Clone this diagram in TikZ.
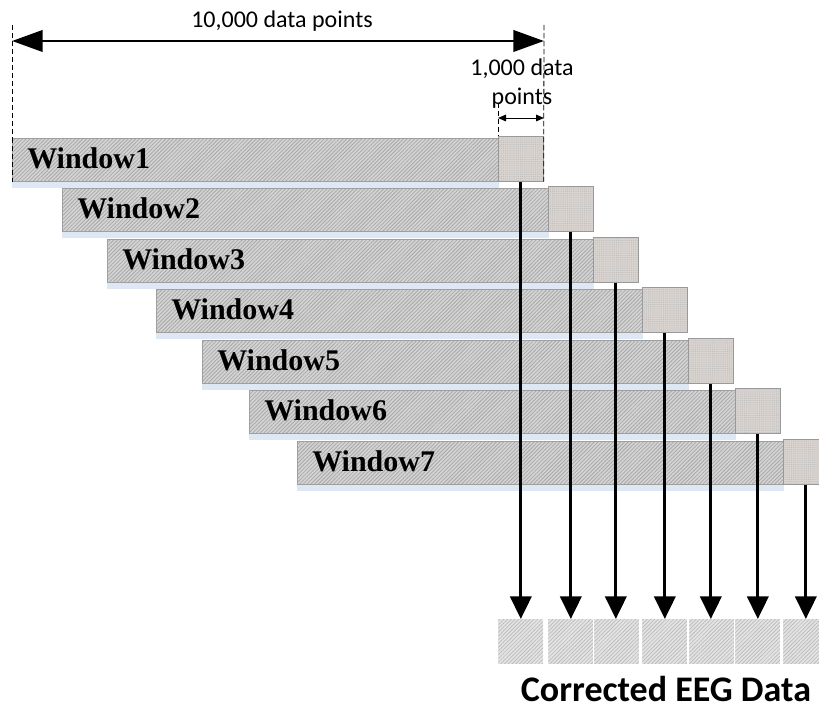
\documentclass[tikz,border=0pt]{standalone}
\usepackage{fontspec}
\setmainfont{Liberation Serif}
\newfontfamily\calfont{Carlito}
\usetikzlibrary{patterns.meta,arrows.meta}
\definecolor{boxc}{RGB}{216,211,207}
\definecolor{barc}{RGB}{212,212,212}
\definecolor{shadc}{RGB}{222,232,244}
\begin{document}
\begin{tikzpicture}[x=0.75pt,y=-0.75pt,
  bar/.style={draw=gray!75, line width=0.5pt, anchor=north west, inner sep=0pt,
    minimum width=364.5pt, minimum height=32.25pt,
    preaction={fill=barc},
    pattern={Lines[angle=45,distance=2pt,line width=0.6pt]}, pattern color=gray!68},
  sbox/.style={draw=gray!80, line width=0.5pt, anchor=north west, inner sep=0pt,
    minimum width=33.75pt, minimum height=33.4pt,
    preaction={fill=boxc},
    pattern={Dots[distance=1.6pt,radius=0.35pt]}, pattern color=gray!55},
  cbox/.style={anchor=north west, inner sep=0pt,
    minimum width=33.5pt, minimum height=33.5pt,
    preaction={fill=gray!22},
    pattern={Lines[angle=45,distance=2pt,line width=0.5pt]}, pattern color=gray!55},
  wlabel/.style={font=\bfseries\fontsize{22.5}{24}\selectfont, anchor=base west, inner sep=0pt},
  dim/.style={font=\calfont\fontsize{18}{21.75}\selectfont, inner sep=0pt},
  guide/.style={line width=0.6pt, dash pattern=on 4pt off 2pt},
  down/.style={line width=2.2pt, -{Triangle[length=17pt,width=16pt]}},
]
\useasboundingbox (0,0) rectangle (819,712);
\clip (0,0) rectangle (819,712);

% windows
\foreach \i/\bx/\ty in {1/498/138,2/548/188,3/593/239,4/642/289,5/688/340,6/735/390,7/783/441}{
  \node[bar] (w\i) at (\bx-486,\ty) {};
  \fill[shadc] (w\i.south west) rectangle ([yshift=-4.5pt]w\i.south east);
  \node[sbox] (s\i) at (\bx,\ty-1.5) {};
  \node[wlabel] (l\i) at (\bx-471,\ty+31) {Window\i};
}

% corrected data boxes
\foreach \i/\cx in {1/498,2/548,3/594,4/642,5/689,6/735,7/783}{
  \node[cbox] (c\i) at (\cx,619) {};
}

% arrows down
\foreach \i in {1,...,7}{
  \draw[down] (s\i.south) -- (s\i.south |- c\i.north);
}

% dimension guides
\coordinate (g1t) at (12,25);
\coordinate (g2t) at (544,25);
\coordinate (g3t) at (498,103);
\draw[guide] (g1t) -- (w1.north west);
\draw[guide] (w1.north west) -- (w1.south west);
\draw[guide] (g2t) -- (s1.south east);
\draw[guide] (g3t) -- (s1.north west);

\coordinate (a1) at (12,41);
\coordinate (a2) at (544,41);
\draw[line width=2.2pt, {Triangle[length=23pt,width=16pt]}-{Triangle[length=23pt,width=16pt]}] (a1) -- (a2);
\node[dim, anchor=base] (t1) at (282,28) {10,000 data points};

\coordinate (b1) at (498,118);
\coordinate (b2) at (544,118);
\draw[line width=0.7pt, {Triangle[length=6pt,width=5pt]}-{Triangle[length=6pt,width=5pt]}] (b1) -- (b2);
\node[dim, anchor=base, align=center] (t2) at (522,105) {1,000 data\\points};

\node[font=\calfont\bfseries\fontsize{27}{30}\selectfont, anchor=base, inner sep=0pt] (title) at (666,702) {Corrected EEG Data};
\end{tikzpicture}
\end{document}
